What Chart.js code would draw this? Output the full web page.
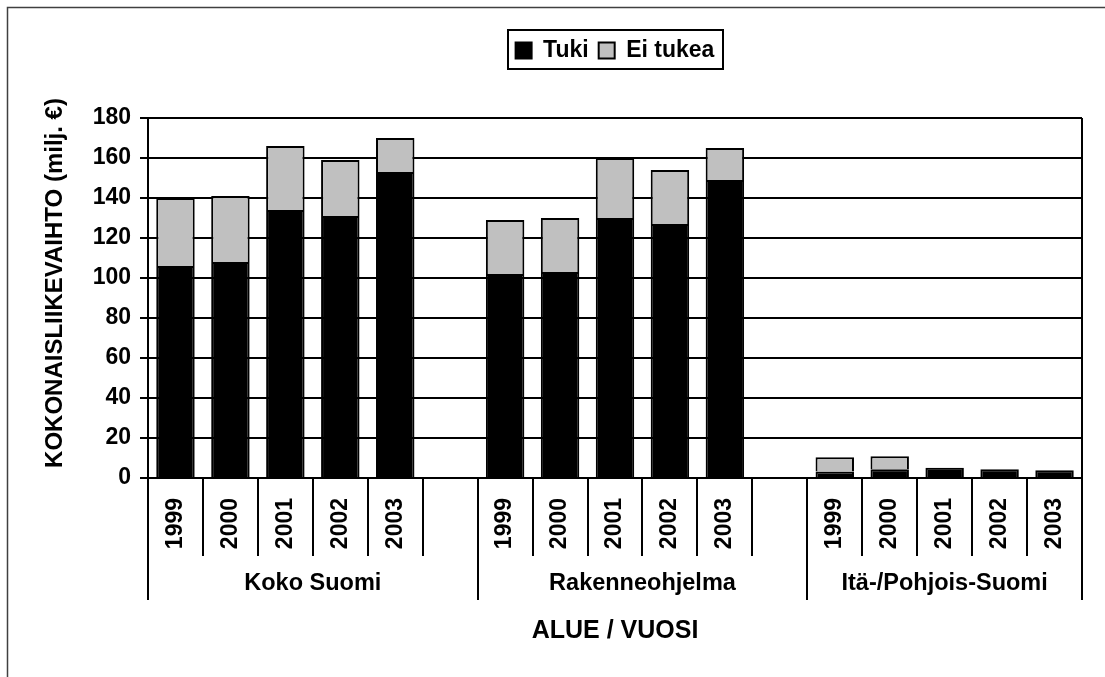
<!DOCTYPE html>
<html>
<head>
<meta charset="utf-8">
<script src="https://cdn.jsdelivr.net/npm/chart.js@4/dist/chart.umd.min.js"></script>
<style>
  html, body { margin: 0; padding: 0; background: #fff; }
  #wrap { width: 1105px; height: 677px; position: relative; }
</style>
</head>
<body>
<div id="wrap"><canvas id="c" width="1105" height="677"></canvas></div>
<script>
// ---- data ----
const categories = ['1999','2000','2001','2002','2003','',
                    '1999','2000','2001','2002','2003','',
                    '1999','2000','2001','2002','2003'];
const groupNames = ['Koko Suomi', 'Rakenneohjelma', 'Itä-/Pohjois-Suomi'];
const groupSizes = [6, 6, 5];
const tuki     = [106, 108, 134, 131, 153, null, 102, 103, 130, 127, 149, null, 3.3, 4.4, 5.1, 4.4, 3.9];
const eiTukea  = [34, 33, 32, 28, 17, null, 27, 27, 30, 27, 16, null, 7.1, 6.5, 0, 0, 0];
const seriesNames = ['Tuki', 'Ei tukea'];
const yTitle = 'KOKONAISLIIKEVAIHTO (milj. €)';
const xTitle = 'ALUE / VUOSI';

const FONT = '"Liberation Sans", Arial, sans-serif';

const decor = {
  id: 'decor',
  beforeLayout(chart) {
    const lg = chart.legend;
    if (lg && !lg._patched) {
      const orig = lg.fit.bind(lg);
      lg.fit = function () { orig(); this.height = 89; };
      lg._patched = true;
    }
  },
  afterDraw(chart) {
    const ctx = chart.ctx;
    const xs = chart.scales.x;
    const area = chart.chartArea;
    ctx.save();
    // outer frame
    ctx.strokeStyle = '#404040';
    ctx.lineWidth = 1.5;
    ctx.strokeRect(7.5, 7.5, 1200, 1000);
    // plot right border
    ctx.strokeStyle = '#000';
    ctx.lineWidth = 2;
    ctx.beginPath();
    ctx.moveTo(area.right, area.top);
    ctx.lineTo(area.right, area.bottom);
    ctx.stroke();
    // category separators
    const slot = xs.getPixelForValue(1) - xs.getPixelForValue(0);
    const n = categories.length;
    const longIdx = new Set([0]);
    let acc = 0;
    groupSizes.forEach(s => { acc += s; longIdx.add(acc); });
    for (let b = 0; b <= n; b++) {
      const x = b < n ? xs.getPixelForValue(b) - slot / 2 : xs.getPixelForValue(n - 1) + slot / 2;
      ctx.beginPath();
      ctx.moveTo(Math.round(x), area.bottom);
      ctx.lineTo(Math.round(x), longIdx.has(b) ? area.bottom + 122 : area.bottom + 78);
      ctx.stroke();
    }
    // group labels
    ctx.fillStyle = '#000';
    ctx.font = 'bold 23.5px ' + FONT;
    ctx.textAlign = 'center';
    ctx.textBaseline = 'middle';
    let start = 0;
    groupNames.forEach((g, i) => {
      const end = start + groupSizes[i] - 1;
      const l = xs.getPixelForValue(start) - slot / 2;
      const r = xs.getPixelForValue(end) + slot / 2;
      ctx.fillText(g, (l + r) / 2, area.bottom + 106);
      start = end + 1;
    });
    // y axis title
    ctx.save();
    ctx.font = 'bold 24px ' + FONT;
    ctx.translate(55, 283);
    ctx.rotate(-Math.PI / 2);
    ctx.fillText(yTitle, 0, 0);
    ctx.restore();
    // legend frame
    const hb = chart.legend.legendHitBoxes;
    if (hb && hb.length) {
      const left = Math.min(...hb.map(h => h.left));
      const right = Math.max(...hb.map(h => h.left + h.width));
      const top = Math.min(...hb.map(h => h.top));
      const bottom = Math.max(...hb.map(h => h.top + h.height));
      ctx.strokeStyle = '#000';
      ctx.lineWidth = 2;
      ctx.strokeRect(Math.round(left - 8), Math.round(top - 9), Math.round(right - left + 16), Math.round(bottom - top + 16));
    }
    ctx.restore();
  }
};

new Chart(document.getElementById('c'), {
  type: 'bar',
  data: {
    labels: categories,
    datasets: [
      { label: seriesNames[0], data: tuki, backgroundColor: '#000000', borderColor: '#000000', borderWidth: 2,
        barPercentage: 0.7, categoryPercentage: 1.0 },
      { label: seriesNames[1], data: eiTukea, backgroundColor: '#c0c0c0', borderColor: '#000000', borderWidth: 2,
        barPercentage: 0.7, categoryPercentage: 1.0 }
    ]
  },
  options: {
    responsive: false,
    animation: false,
    layout: { padding: { top: 29, left: 28, right: 23, bottom: 16 } },
    plugins: {
      legend: {
        position: 'top',
        fullSize: false,
        labels: {
          boxWidth: 16, boxHeight: 16, padding: 10, color: '#000',
          font: { family: FONT, size: 23, weight: 'bold' }
        }
      },
      tooltip: { enabled: false }
    },
    scales: {
      x: {
        stacked: true,
        grid: { display: true, drawOnChartArea: false, drawTicks: false, color: '#000', lineWidth: 0 },
        border: { display: true, color: '#000', width: 2 },
        ticks: {
          autoSkip: false, maxRotation: 90, minRotation: 90, padding: 20, color: '#000',
          font: { family: FONT, size: 23, weight: 'bold' }
        },
        title: { display: true, text: xTitle, color: '#000', padding: { top: 0, bottom: 15 },
          font: { family: FONT, size: 25, weight: 'bold' } },
        afterFit(s) { s.height = 677 - 478 - 16; }
      },
      y: {
        stacked: true,
        min: 0, max: 180,
        grid: { color: '#000', lineWidth: 2, tickLength: 8, tickColor: '#000' },
        border: { display: true, color: '#000', width: 2 },
        ticks: { stepSize: 20, padding: 9, color: '#000',
          font: { family: FONT, size: 23, weight: 'bold' } },
        title: { display: false },
        afterFit(s) { s.width = 148 - 28; }
      }
    }
  },
  plugins: [decor]
});
</script>
</body>
</html>
